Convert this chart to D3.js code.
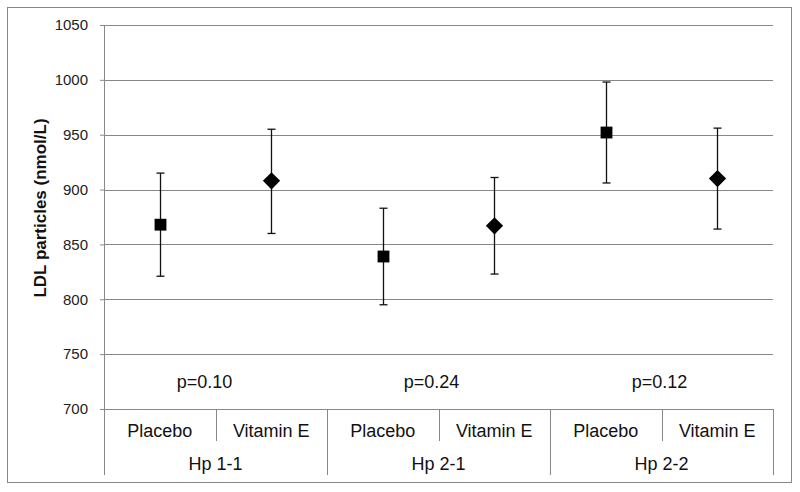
<!DOCTYPE html>
<html>
<head>
<meta charset="utf-8">
<script src="https://cdn.jsdelivr.net/npm/d3@7"></script>
<style>
  html, body { margin: 0; padding: 0; background: #fff; }
  svg { display: block; font-family: Arial, "Liberation Sans", sans-serif; }
</style>
</head>
<body>
<svg id="chart" width="800" height="492"></svg>
<script>
// ---- data ----
const groups = ["Hp 1-1", "Hp 2-1", "Hp 2-2"];
const treatments = ["Placebo", "Vitamin E"];
const means = [868, 908, 839, 867, 952, 910];
const upper = [915, 955, 883, 911, 998, 956];
const lower = [821, 860, 795, 823, 906, 864];
const markers = ["square", "diamond", "square", "diamond", "square", "diamond"];
const pValues = ["p=0.10", "p=0.24", "p=0.12"];
const yTicks = [700, 750, 800, 850, 900, 950, 1000, 1050];
const yTitle = "LDL particles (nmol/L)";

// ---- layout ----
const svg = d3.select("#chart");
const plot = { left: 104, right: 773, top: 25, bottom: 409 };
const gray = "#888888";

// outer border
svg.append("rect").attr("x", 7.5).attr("y", 7.5).attr("width", 784).attr("height", 475)
  .attr("fill", "none").attr("stroke", gray).attr("stroke-width", 1);

const cats = [];
groups.forEach(g => treatments.forEach(t => cats.push(g + "|" + t)));

const x = d3.scaleBand().domain(cats).range([plot.left, plot.right]).padding(0);
const xg = d3.scaleBand().domain(groups).range([plot.left, plot.right]).padding(0);
const y = d3.scaleLinear().domain([700, 1050]).range([plot.bottom, plot.top]);

// gridlines + y axis
const yAxis = d3.axisLeft(y).tickValues(yTicks).tickFormat(d3.format("d")).tickSize(4).tickPadding(12);
const ya = svg.append("g").attr("transform", `translate(${plot.left},0)`).call(yAxis);
ya.select(".domain").remove();
ya.selectAll(".tick line").attr("stroke", gray);
ya.selectAll(".tick text").attr("font-size", 15).attr("fill", "#222")
  .attr("font-family", "Arial, 'Liberation Sans', sans-serif");

svg.append("g").selectAll("line").data(yTicks).join("line")
  .attr("x1", plot.left).attr("x2", plot.right)
  .attr("y1", d => Math.round(y(d)) + 0.5).attr("y2", d => Math.round(y(d)) + 0.5)
  .attr("stroke", gray).attr("stroke-width", 1);

// left axis line
svg.append("line").attr("x1", plot.left + 0.5).attr("x2", plot.left + 0.5)
  .attr("y1", plot.top).attr("y2", 475).attr("stroke", gray);

// category separators
const sepShortY = 441, sepLongY = 475;
cats.forEach((c, i) => {
  const xr = Math.round(x(c) + x.bandwidth()) + 0.5;
  const isGroupEnd = (i % 2 === 1);
  svg.append("line").attr("x1", xr).attr("x2", xr)
    .attr("y1", plot.bottom).attr("y2", isGroupEnd ? sepLongY : sepShortY)
    .attr("stroke", gray);
});

// category labels
svg.append("g").selectAll("text").data(cats).join("text")
  .attr("x", d => x(d) + x.bandwidth() / 2)
  .attr("y", 431).attr("dy", "0.35em")
  .attr("text-anchor", "middle").attr("font-size", 18).attr("fill", "#111")
  .text(d => d.split("|")[1]);

svg.append("g").selectAll("text").data(groups).join("text")
  .attr("x", d => xg(d) + xg.bandwidth() / 2)
  .attr("y", 464).attr("dy", "0.35em")
  .attr("text-anchor", "middle").attr("font-size", 18).attr("fill", "#111")
  .text(d => d);

// p-value labels
const pOffsets = [-11, -7, -2];
svg.append("g").selectAll("text").data(pValues).join("text")
  .attr("x", (d, i) => xg(groups[i]) + xg.bandwidth() / 2 + pOffsets[i])
  .attr("y", y(725)).attr("dy", "0.35em")
  .attr("text-anchor", "middle").attr("font-size", 18).attr("fill", "#111")
  .text(d => d);

// error bars
const eb = svg.append("g");
cats.forEach((c, i) => {
  const cx = Math.round(x(c) + x.bandwidth() / 2) + 0.5;
  eb.append("line").attr("x1", cx).attr("x2", cx)
    .attr("y1", y(upper[i])).attr("y2", y(lower[i]))
    .attr("stroke", "#111").attr("stroke-width", 1.3);
  [upper[i], lower[i]].forEach(v => {
    eb.append("line").attr("x1", cx - 4).attr("x2", cx + 4)
      .attr("y1", y(v)).attr("y2", y(v))
      .attr("stroke", "#111").attr("stroke-width", 1.3);
  });
});

// markers
const sq = d3.symbol().type(d3.symbolSquare).size(140);
const dm = d3.symbol().type(d3.symbolDiamond2).size(190);
svg.append("g").selectAll("path").data(cats).join("path")
  .attr("transform", (d, i) => `translate(${Math.round(x(d) + x.bandwidth() / 2) + 0.5},${y(means[i])})`)
  .attr("d", (d, i) => markers[i] === "square" ? sq() : dm())
  .attr("fill", "#000");

// y title
svg.append("text")
  .attr("transform", `translate(46,208) rotate(-90)`)
  .attr("text-anchor", "middle").attr("font-size", 17).attr("font-weight", "bold")
  .attr("fill", "#111")
  .text(yTitle);
</script>
</body>
</html>
